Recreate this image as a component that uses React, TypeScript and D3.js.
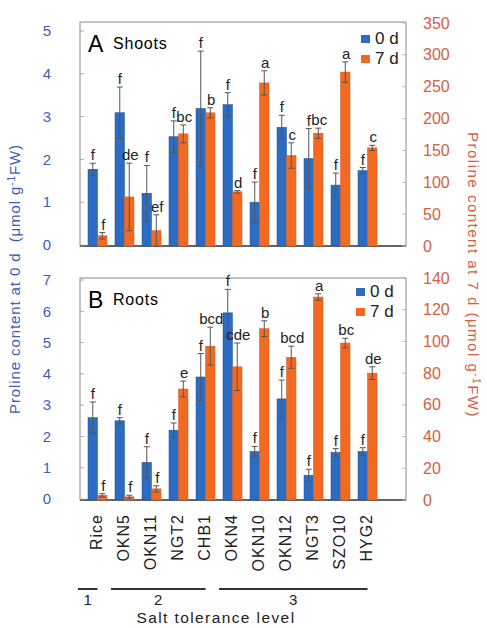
import * as d3 from 'd3';

const categories = ['Rice', 'OKN5', 'OKN11', 'NGT2', 'CHB1', 'OKN4', 'OKN10', 'OKN12', 'NGT3', 'SZO10', 'HYG2'];

// shoots, 0 d (left axis) and 7 d (right axis)
const shoots0 = [1.77, 3.09, 1.21, 2.53, 3.19, 3.28, 1.0, 2.75, 2.02, 1.4, 1.74];
const shoots0Err = [0.14, 0.6, 0.65, 0.37, 1.34, 0.28, 0.47, 0.28, 0.7, 0.28, 0.07];
const shoots7 = [16, 77, 24, 176, 209, 85, 256, 142, 177, 273, 154];
const shoots7Err = [5, 53, 25, 14, 8, 2, 19, 20, 8, 16, 4];
const shoots0Letters = ['f', 'f', 'f', 'f', 'f', 'f', 'f', 'f', 'f', 'f', 'f'];
const shoots7Letters = ['f', 'de', 'ef', 'bc', 'b', 'd', 'a', 'c', 'bc', 'a', 'c'];

// roots
const roots0 = [2.6, 2.5, 1.17, 2.2, 3.9, 5.95, 1.52, 3.2, 0.76, 1.49, 1.52];
const roots0Err = [0.5, 0.1, 0.5, 0.23, 0.75, 0.75, 0.16, 0.6, 0.19, 0.12, 0.12];
const roots7 = [3, 2, 7, 70, 97, 84, 108, 90, 128, 99, 80];
const roots7Err = [1, 1, 2, 5, 12, 15, 5, 7, 2, 3, 4];
const roots0Letters = ['f', 'f', 'f', 'f', 'f', 'f', 'f', 'f', 'f', 'f', 'f'];
const roots7Letters = ['f', 'f', 'f', 'e', 'bcd', 'cde', 'b', 'bcd', 'a', 'bc', 'de'];

const shootsLeftTicks = [0, 1, 2, 3, 4, 5];
const shootsRightTicks = [0, 50, 100, 150, 200, 250, 300, 350];
const rootsLeftTicks = [0, 1, 2, 3, 4, 5, 6, 7];
const rootsRightTicks = [0, 20, 40, 60, 80, 100, 120, 140];

const toleranceGroups = [
  { label: '1', members: ['Rice'] },
  { label: '2', members: ['OKN5', 'OKN11', 'NGT2', 'CHB1'] },
  { label: '3', members: ['OKN4', 'OKN10', 'OKN12', 'NGT3', 'SZO10', 'HYG2'] },
];

const BLUE = '#2c6cc2';
const ORANGE = '#f26a22';
const AXIS_BLUE = '#3c5fb6';
const AXIS_RED = '#d4603f';
const FONT = 'Liberation Sans, Arial, sans-serif';

const frameLeft = 80;
const frameRight = 406;
const x = d3.scaleBand<string>().domain(categories).range([84, 381]);
const barW = 9.5;

function ErrBar({ cx, yLo, yHi }) {
  return (
    <g stroke="#555" strokeWidth={1}>
      <line x1={cx} x2={cx} y1={yLo} y2={yHi} />
      <line x1={cx - 3} x2={cx + 3} y1={yHi} y2={yHi} />
      <line x1={cx - 3} x2={cx + 3} y1={yLo} y2={yLo} />
    </g>
  );
}

function Panel({ letter, name, top, base, yL, yR, leftTicks, rightTicks, v0, e0, v7, e7, l0, l7, legend }) {
  return (
    <g fontFamily={FONT}>
      <rect x={frameLeft} y={top} width={frameRight - frameLeft} height={base - top} fill="none" stroke="#888" />
      <line x1={frameLeft} x2={frameRight} y1={base} y2={base} stroke="#444" strokeWidth={1.5} />
      {leftTicks.map((t) => (
        <g key={'l' + t}>
          <line x1={frameLeft} x2={frameLeft + 4} y1={yL(t)} y2={yL(t)} stroke="#aaa" />
          <text x={47} y={yL(t)} dy="0.35em" textAnchor="middle" fontSize={15} fill={AXIS_BLUE}>
            {t}
          </text>
        </g>
      ))}
      {rightTicks.map((t) => (
        <g key={'r' + t}>
          <line x1={frameRight - 4} x2={frameRight} y1={yR(t)} y2={yR(t)} stroke="#bbb" />
          <text x={423} y={yR(t)} dy="0.35em" fontSize={16} fill={AXIS_RED}>
            {t}
          </text>
        </g>
      ))}
      <text x={88} y={top + 30} fontSize={23}>{letter}</text>
      <text x={113} y={top + 27} fontSize={16} letterSpacing={0.8}>{name}</text>

      {categories.map((c, i) => {
        const cx = x(c) + x.bandwidth() / 2;
        const bx = cx - barW;
        const ox = cx;
        const t0 = yL(v0[i]);
        const t7 = yR(v7[i]);
        return (
          <g key={c}>
            <rect x={bx} y={t0} width={barW} height={base - t0} fill={BLUE} stroke="#1f5299" strokeWidth={0.5} />
            <rect x={ox} y={t7} width={barW} height={base - t7} fill={ORANGE} stroke="#d9561a" strokeWidth={0.5} />
            <ErrBar cx={bx + barW / 2} yLo={yL(v0[i] - e0[i])} yHi={yL(v0[i] + e0[i])} />
            <ErrBar cx={ox + barW / 2} yLo={yR(Math.max(0, v7[i] - e7[i]))} yHi={yR(v7[i] + e7[i])} />
            <text x={bx + barW / 2} y={yL(v0[i] + e0[i]) - 3} textAnchor="middle" fontSize={15} fill="#222">
              {l0[i]}
            </text>
            <text x={ox + barW / 2 + 1} y={yR(v7[i] + e7[i]) - 3} textAnchor="middle" fontSize={15} fill="#222">
              {l7[i]}
            </text>
          </g>
        );
      })}

      <rect x={legend[0]} y={legend[1]} width={9} height={8} fill={BLUE} />
      <text x={legend[0] + 14} y={legend[1] + 9} fontSize={17} fill="#222">0 d</text>
      <rect x={legend[0]} y={legend[1] + 20} width={9} height={8} fill={ORANGE} />
      <text x={legend[0] + 14} y={legend[1] + 29} fontSize={17} fill="#222">7 d</text>
    </g>
  );
}

export default function App() {
  const shootsL = d3.scaleLinear().domain([0, 5]).range([245, 31]);
  const shootsR = d3.scaleLinear().domain([0, 350]).range([246, 23]);
  const rootsL = d3.scaleLinear().domain([0, 7]).range([499, 280]);
  const rootsR = d3.scaleLinear().domain([0, 140]).range([500, 278]);

  return (
    <svg width={487} height={628} style={{ position: 'absolute', left: 0, top: 0, background: '#fff' }}>
      <Panel
        letter="A" name="Shoots" top={22} base={246}
        yL={shootsL} yR={shootsR}
        leftTicks={shootsLeftTicks} rightTicks={shootsRightTicks}
        v0={shoots0} e0={shoots0Err} v7={shoots7} e7={shoots7Err}
        l0={shoots0Letters} l7={shoots7Letters}
        legend={[361, 35]}
      />
      <Panel
        letter="B" name="Roots" top={278} base={500}
        yL={rootsL} yR={rootsR}
        leftTicks={rootsLeftTicks} rightTicks={rootsRightTicks}
        v0={roots0} e0={roots0Err} v7={roots7} e7={roots7Err}
        l0={roots0Letters} l7={roots7Letters}
        legend={[356, 288]}
      />

      <g fontFamily={FONT}>
        {categories.map((c) => (
          <text
            key={c}
            transform={`translate(${x(c) + x.bandwidth() / 2 - 1},514) rotate(-90)`}
            dy="0.35em"
            textAnchor="end"
            fontSize={16}
            letterSpacing={1}
            fill="#222"
          >
            {c}
          </text>
        ))}
        {toleranceGroups.map((g) => {
          const first = g.members[0];
          const last = g.members[g.members.length - 1];
          const x1 = g.members.length === 1 ? x(first) - 6 : x(first);
          const x2 = x(last) + x.bandwidth() / 2;
          return (
            <g key={g.label}>
              <line x1={x1} x2={x2} y1={589} y2={589} stroke="#333" strokeWidth={2} />
              <text x={(x1 + x2) / 2} y={605} textAnchor="middle" fontSize={15} fill="#222">
                {g.label}
              </text>
            </g>
          );
        })}
        <text x={216} y={623} textAnchor="middle" fontSize={15.5} letterSpacing={1.4} fill="#222">
          Salt tolerance level
        </text>

        <text transform="translate(20,279) rotate(-90)" textAnchor="middle" fontSize={15} letterSpacing={0.9} fill={AXIS_BLUE}>
          {'Proline content at 0 d\u00a0\u00a0(μmol g'}
          <tspan fontSize={10} dy={-5}>-1</tspan>
          <tspan dy={5}>FW)</tspan>
        </text>
        <text transform="translate(468,275) rotate(90)" textAnchor="middle" fontSize={15} letterSpacing={1.5} fill={AXIS_RED}>
          {'Proline content at 7 d (μmol g'}
          <tspan fontSize={10} dy={-5}>-1</tspan>
          <tspan dy={5}>FW)</tspan>
        </text>
      </g>
    </svg>
  );
}
